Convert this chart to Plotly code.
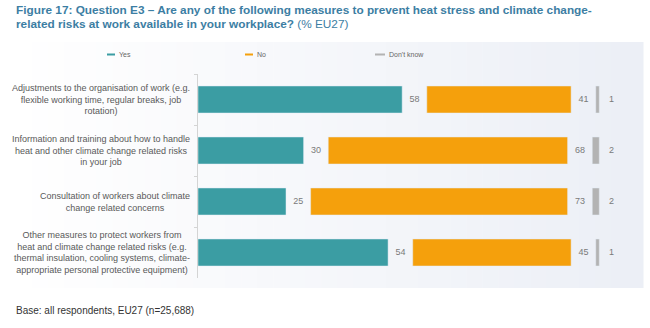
import plotly.graph_objects as go

# ---- data ----
categories = [
    "Adjustments to the organisation of work (e.g.<br>flexible working time, regular breaks, job<br>rotation)",
    "Information and training about how to handle<br>heat and other climate change related risks<br>in your job",
    "Consultation of workers about climate<br>change related concerns",
    "Other measures to protect workers from<br>heat and climate change related risks (e.g.<br>thermal insulation, cooling systems, climate-<br>appropriate personal protective equipment)",
]
yes_vals = [58, 30, 25, 54]
no_vals = [41, 68, 73, 45]
dk_vals = [1, 2, 2, 1]
series_names = ["Yes", "No", "Don't know"]

# ---- style ----
C_YES = "#3b9da3"
C_NO = "#f5a00c"
C_DK = "#b3b3b3"
GAP = 7
W, H = 650, 328
L, R, T, B = 198, 10, 74, 50
PW, PH = W - L - R, H - T - B
XMAX = PW / 3.52

def px(x):
    return (x - L) / PW

def py(y):
    return (H - B - y) / PH

no_base = [y + GAP for y in yes_vals]
dk_base = [nb + n + GAP for nb, n in zip(no_base, no_vals)]

fig = go.Figure()
bar_kw = dict(orientation="h", width=0.53, showlegend=False, hoverinfo="skip")
fig.add_trace(go.Bar(y=categories, x=yes_vals, base=[0] * 4, marker_color=C_YES, name=series_names[0], **bar_kw))
fig.add_trace(go.Bar(y=categories, x=no_vals, base=no_base, marker_color=C_NO, name=series_names[1], **bar_kw))
fig.add_trace(go.Bar(y=categories, x=dk_vals, base=dk_base, marker_color=C_DK, name=series_names[2], **bar_kw))

lab_font = dict(family="Liberation Sans, Arial", size=9, color="#7a7a7a")
for vals, bases in ((yes_vals, [0] * 4), (no_vals, no_base), (dk_vals, dk_base)):
    fig.add_trace(go.Scatter(
        y=categories, x=[b + v + GAP / 2 for b, v in zip(bases, vals)],
        text=[str(v) for v in vals], mode="text", textposition="middle center",
        textfont=lab_font, showlegend=False, hoverinfo="skip"))

shapes = []
# background gradient panel
n = 40
x0p, x1p = 0, 643
c0 = (255, 255, 255)
c1 = (236, 239, 246)
for i in range(n):
    a = x0p + (x1p - x0p) * i / n
    b = x0p + (x1p - x0p) * (i + 1) / n
    t = i / (n - 1)
    col = tuple(int(round(c0[k] + (c1[k] - c0[k]) * t)) for k in range(3))
    shapes.append(dict(type="rect", xref="paper", yref="paper", x0=px(a), x1=px(b + 0.5),
                       y0=py(288), y1=py(42), fillcolor="rgb(%d,%d,%d)" % col,
                       line=dict(width=0), layer="below"))

annotations = []
# legend
leg = [(107, 115, 117, C_YES), (245, 253, 255, C_NO), (375, 385, 387, C_DK)]
for (a, b, tx, c), name in zip(leg, series_names):
    shapes.append(dict(type="line", xref="paper", yref="paper", x0=px(a), x1=px(b),
                       y0=py(54.5), y1=py(54.5), line=dict(color=c, width=2)))
    annotations.append(dict(xref="paper", yref="paper", x=px(tx), y=py(54.5), text=name,
                            showarrow=False, xanchor="left", yanchor="middle",
                            font=dict(family="Liberation Sans, Arial", size=7, color="#666666")))

# category labels
for cat in categories:
    annotations.append(dict(xref="paper", yref="y", x=px(192), y=cat, text=cat, showarrow=False,
                            xanchor="right", yanchor="middle", align="center",
                            font=dict(family="Liberation Sans, Arial", size=9, color="#595959")))

# title (two lines)
title_font = dict(family="Liberation Sans, Arial", size=11.8, color="#3c7ea3")
annotations.append(dict(
    xref="paper", yref="paper", x=px(14), y=py(9.5), xanchor="left", yanchor="middle",
    showarrow=False,
    text="<b>Figure 17: Question E3 – Are any of the following measures to prevent heat stress and climate change-</b>",
    font=title_font))
annotations.append(dict(
    xref="paper", yref="paper", x=px(14), y=py(24.5), xanchor="left", yanchor="middle",
    showarrow=False,
    text="<b>related risks at work available in your workplace?</b> (% EU27)",
    font=title_font))

# footnote
annotations.append(dict(xref="paper", yref="paper", x=px(14), y=py(310), xanchor="left", yanchor="middle",
                        showarrow=False, text="Base: all respondents, EU27 (n=25,688)",
                        font=dict(family="Liberation Sans, Arial", size=10, color="#333333")))

fig.update_layout(
    width=W, height=H, margin=dict(l=L, r=R, t=T, b=B),
    paper_bgcolor="white", plot_bgcolor="rgba(0,0,0,0)",
    barmode="overlay", bargap=0.47,
    shapes=shapes, annotations=annotations,
    xaxis=dict(range=[0, XMAX], visible=False, fixedrange=True),
    yaxis=dict(autorange="reversed", showticklabels=False, showline=True, linecolor="#d4d4d4",
               linewidth=1, ticks="outside", tickson="boundaries", ticklen=3, tickcolor="#d4d4d4",
               showgrid=False, zeroline=False, fixedrange=True),
    showlegend=False,
)

fig.write_html("out.html")
